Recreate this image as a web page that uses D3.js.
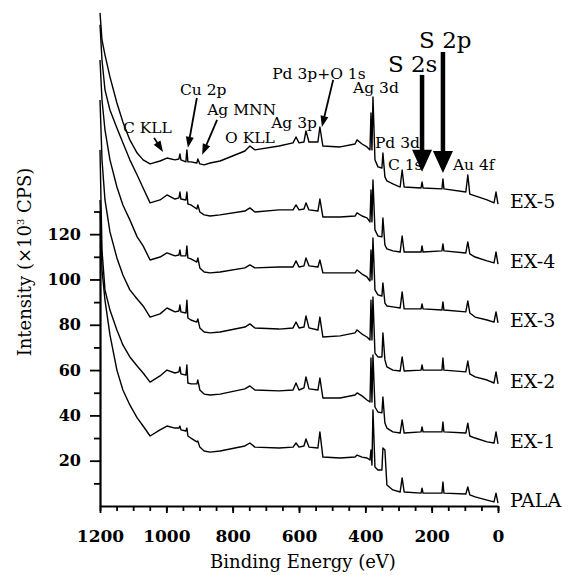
<!DOCTYPE html>
<html>
<head>
<meta charset="utf-8">
<script src="https://cdn.jsdelivr.net/npm/d3@7"></script>
<style>
  body { margin: 0; background: #fff; }
  svg text { font-family: "DejaVu Serif", serif !important; fill: #000; }
</style>
</head>
<body>
<div id="chart"></div>
<script>
// binding energies (eV) shared by all spectra
var energies = [1200, 1194, 1185, 1170, 1149, 1131, 1110, 1088, 1070, 1049, 1019, 998, 974, 962, 959, 956,
  941, 938, 935, 926, 908, 905, 899, 886, 868, 838, 763, 748, 733, 660, 618, 609, 600, 585, 579, 570,
  543, 537, 528, 476, 431, 425, 410, 395, 386, 383, 380, 377, 371, 362, 350, 347, 341, 335, 317, 295,
  289, 283, 232, 229, 226, 169, 166, 163, 97, 91, 85, 69, 33, 12, 6, 0];

// intensities (x10^3 CPS), stacked as in the figure
var ex5 = [217.7, 205.7, 199.1, 189.4, 177.9, 169.5, 161.6, 155.8, 152.8, 151.0, 152.3, 153.6, 152.8, 153.2, 155.4, 152.8,
  151.9, 157.2, 151.9, 151.9, 151.4, 153.2, 151.0, 150.6, 151.4, 152.3, 156.7, 158.9, 157.2, 158.9, 160.3, 162.9, 160.3, 160.7, 165.6, 160.7,
  160.7, 167.3, 158.9, 158.5, 159.8, 161.6, 159.8, 158.5, 157.2, 173.5, 157.2, 180.6, 152.8, 149.7, 149.2, 155.8, 145.3, 143.5, 142.2, 140.8,
  148.3, 140.8, 140.4, 143.0, 140.4, 140.0, 144.4, 140.0, 138.6, 146.1, 137.7, 136.9, 135.1, 133.8, 138.6, 133.3];
var ex4 = [212.4, 196.9, 183.7, 174.8, 166.9, 160.3, 152.8, 146.1, 140.4, 133.8, 135.1, 137.3, 135.5, 136.0, 138.6, 135.5,
  135.1, 138.6, 133.3, 132.9, 131.1, 132.9, 129.8, 128.5, 128.0, 128.5, 130.2, 131.6, 129.8, 130.7, 130.7, 132.9, 130.7, 131.1, 133.8, 130.7,
  130.2, 135.5, 127.6, 127.6, 128.0, 129.4, 128.0, 127.2, 125.4, 139.5, 125.4, 143.9, 121.9, 119.2, 118.8, 127.2, 115.2, 113.5, 112.6, 112.1,
  119.2, 112.1, 112.1, 114.8, 112.1, 112.6, 115.7, 112.6, 111.7, 116.6, 111.3, 109.9, 108.2, 107.3, 112.1, 106.8];
var ex3 = [196.9, 179.2, 166.0, 152.8, 140.8, 132.9, 126.3, 118.8, 114.8, 108.6, 109.9, 111.7, 110.4, 110.8, 113.0, 110.4,
  110.4, 114.8, 109.5, 109.1, 107.7, 109.5, 105.1, 103.3, 102.9, 103.3, 105.1, 106.4, 105.1, 105.5, 105.5, 108.2, 105.5, 106.0, 109.5, 106.0,
  105.5, 108.6, 102.9, 102.9, 102.9, 104.2, 102.4, 101.1, 99.3, 113.0, 99.8, 118.3, 95.4, 93.2, 92.7, 98.5, 89.6, 88.3, 87.9, 87.4,
  94.5, 87.0, 87.0, 89.2, 87.0, 86.5, 90.1, 86.5, 85.7, 90.5, 85.2, 83.4, 82.1, 81.2, 85.7, 80.8];
var ex2 = [179.2, 152.8, 135.1, 121.0, 109.5, 102.0, 95.4, 91.4, 88.3, 83.4, 84.8, 87.4, 85.7, 86.1, 88.7, 85.7,
  85.2, 90.9, 83.0, 82.1, 81.2, 82.6, 78.6, 76.8, 76.4, 76.8, 79.0, 80.4, 78.6, 78.1, 78.6, 81.2, 78.6, 79.0, 83.9, 78.6,
  77.7, 83.4, 74.6, 75.1, 76.4, 77.7, 75.9, 74.6, 73.3, 90.9, 73.3, 92.3, 67.5, 65.8, 65.8, 76.4, 64.5, 61.4, 60.0, 59.6,
  65.8, 59.6, 60.0, 62.3, 60.0, 60.0, 65.3, 60.0, 59.2, 64.0, 58.3, 57.0, 55.6, 54.3, 59.2, 53.9];
var ex1 = [157.2, 113.0, 95.4, 86.5, 77.7, 71.1, 65.8, 61.8, 58.7, 54.7, 57.4, 60.0, 58.7, 59.2, 61.4, 58.3,
  57.8, 62.3, 54.3, 53.9, 53.9, 55.6, 51.2, 49.4, 49.0, 49.4, 51.7, 53.0, 51.2, 50.8, 51.2, 54.3, 51.2, 52.1, 57.0, 51.7,
  51.2, 56.5, 47.7, 47.7, 49.0, 49.9, 48.6, 46.8, 45.9, 65.3, 45.9, 66.7, 43.7, 41.5, 41.1, 48.1, 36.6, 34.4, 32.7, 32.2,
  38.0, 32.2, 32.7, 34.9, 32.7, 32.7, 37.1, 32.7, 32.2, 36.6, 30.9, 30.0, 28.3, 27.8, 32.7, 27.4];
var pala = [135.1, 104.2, 90.9, 75.5, 60.0, 51.2, 44.6, 38.9, 35.3, 30.9, 33.6, 35.3, 34.4, 34.4, 35.3, 33.6,
  33.1, 34.4, 30.9, 30.0, 28.3, 28.7, 26.0, 24.3, 23.8, 24.3, 26.5, 27.8, 26.0, 25.6, 26.0, 27.8, 26.0, 26.5, 29.6, 26.0,
  25.6, 32.7, 21.6, 21.2, 21.6, 22.5, 21.6, 21.2, 20.3, 24.7, 18.1, 42.4, 17.2, 15.9, 15.9, 25.6, 24.7, 9.3, 7.1, 6.2,
  12.4, 6.2, 5.7, 7.9, 5.7, 5.7, 10.6, 5.7, 5.3, 8.4, 4.9, 4.0, 2.6, 1.8, 5.7, 1.3];

var seriesNames = ["EX-5", "EX-4", "EX-3", "EX-2", "EX-1", "PALA"];
var seriesValues = [ex5, ex4, ex3, ex2, ex1, pala];

var xTicks = [1200, 1000, 800, 600, 400, 200, 0];
var xMinorTicks = d3.range(0, 1201, 50);
var yTicks = [20, 40, 60, 80, 100, 120];
var yMinorTicks = [10, 30, 50, 70, 90, 110, 130];

// peak labels: [text, energy, intensity at baseline]
var peakLabels = [
  ["C KLL", 1131, 164.7], ["Cu 2p", 959, 181.5], ["Ag MNN", 877, 172.6], ["O KLL", 823, 160.3],
  ["Ag 3p", 684, 166.9], ["Pd 3p+O 1s", 681, 188.5], ["Ag 3d", 437, 182.3], ["Pd 3d", 371, 158.1],
  ["C 1s", 332, 148.3], ["Au 4f", 136, 148.3]
];
var bigLabels = [["S 2s", 332, 191.6], ["S 2p", 238, 202.2]];

// arrows: [fromE, fromI, toE, toI]
var smallArrows = [[1037, 162.5, 1010, 156.3], [908, 180.1, 935, 158.1], [847, 170.4, 892, 155.0], [497, 188.1, 531, 167.3]];
var bigArrows = [[229, 190.3, 229, 147.5], [166, 200.4, 166, 147.0]];

var width = 579, height = 575;

var x = d3.scaleLinear().domain([1200, 0]).range([100, 498]);
var y = d3.scaleLinear().domain([0, 130]).range([506, 211.5]);

var svg = d3.select("#chart").append("svg")
  .attr("width", width)
  .attr("height", height);

// axes
var gx = svg.append("g").attr("transform", "translate(0,506)");
gx.call(d3.axisBottom(x).tickValues(xMinorTicks).tickSize(5).tickSizeOuter(0).tickFormat(""));
gx.select(".domain").remove();
var gx2 = svg.append("g").attr("transform", "translate(0,506)");
gx2.call(d3.axisBottom(x).tickValues(xTicks).tickSize(7).tickSizeOuter(0).tickFormat(d3.format("d")));
gx2.selectAll("text").attr("y", 36).attr("dy", 0)
  .style("font-size", "17px").style("font-weight", "bold");

var gy = svg.append("g").attr("transform", "translate(100,0)");
gy.call(d3.axisLeft(y).tickValues(yMinorTicks).tickSize(6).tickSizeOuter(0).tickFormat(""));
gy.select(".domain").remove();
var gy2 = svg.append("g").attr("transform", "translate(100,0)");
gy2.call(d3.axisLeft(y).tickValues(yTicks).tickSize(10).tickSizeOuter(0));
gy2.selectAll("text").attr("x", -19)
  .style("font-size", "16px").style("font-weight", "bold");

svg.selectAll(".domain").attr("stroke-width", 2.2);
svg.selectAll(".tick line").attr("stroke-width", 1.8);

svg.append("text")
  .attr("x", 303).attr("y", 568)
  .attr("text-anchor", "middle")
  .style("font-size", "18px")
  .text("Binding Energy (eV)");

var yt = svg.append("text")
  .attr("transform", "translate(31,262) rotate(-90)")
  .attr("text-anchor", "middle")
  .style("font-size", "18px");
yt.append("tspan").text("Intensity (\u00d710");
yt.append("tspan").attr("dy", -7).style("font-size", "10px").text("3");
yt.append("tspan").attr("dy", 7).text(" CPS)");

// spectra
var line = d3.line()
  .x(function (d, i) { return x(energies[i]); })
  .y(function (d) { return y(d); });

svg.selectAll(".spectrum")
  .data(seriesValues)
  .enter().append("path")
  .attr("class", "spectrum")
  .attr("d", line)
  .attr("fill", "none")
  .attr("stroke", "#000")
  .attr("stroke-width", 1.4)
  .attr("stroke-linejoin", "round");

svg.selectAll(".name")
  .data(seriesValues)
  .enter().append("text")
  .attr("class", "name")
  .attr("x", x(0) + 12)
  .attr("y", function (d) { return y(d[d.length - 1]) + 4; })
  .style("font-size", "19px")
  .text(function (d, i) { return seriesNames[i]; });

// peak annotations
svg.selectAll(".peak")
  .data(peakLabels)
  .enter().append("text")
  .attr("class", "peak")
  .attr("x", function (d) { return x(d[1]); })
  .attr("y", function (d) { return y(d[2]); })
  .style("font-size", "15.5px")
  .text(function (d) { return d[0]; });

svg.selectAll(".bigpeak")
  .data(bigLabels)
  .enter().append("text")
  .attr("class", "bigpeak")
  .attr("x", function (d) { return x(d[1]); })
  .attr("y", function (d) { return y(d[2]); })
  .style("font-size", "23px")
  .text(function (d) { return d[0]; });

function drawArrow(a, sw, headLen, headW) {
  var x1 = x(a[0]), y1 = y(a[1]), x2 = x(a[2]), y2 = y(a[3]);
  var ang = Math.atan2(y2 - y1, x2 - x1);
  var bx = x2 - headLen * Math.cos(ang), by = y2 - headLen * Math.sin(ang);
  var px = Math.sin(ang) * headW / 2, py = -Math.cos(ang) * headW / 2;
  svg.append("line")
    .attr("x1", x1).attr("y1", y1).attr("x2", bx + 2 * Math.cos(ang)).attr("y2", by + 2 * Math.sin(ang))
    .attr("stroke", "#000").attr("stroke-width", sw);
  svg.append("path")
    .attr("d", "M" + x2 + "," + y2 + "L" + (bx + px) + "," + (by + py) + "L" + (bx - px) + "," + (by - py) + "Z")
    .attr("fill", "#000");
}

smallArrows.forEach(function (a) { drawArrow(a, 1.8, 11, 8); });
bigArrows.forEach(function (a) { drawArrow(a, 4.5, 22, 20); });
</script>
</body>
</html>
